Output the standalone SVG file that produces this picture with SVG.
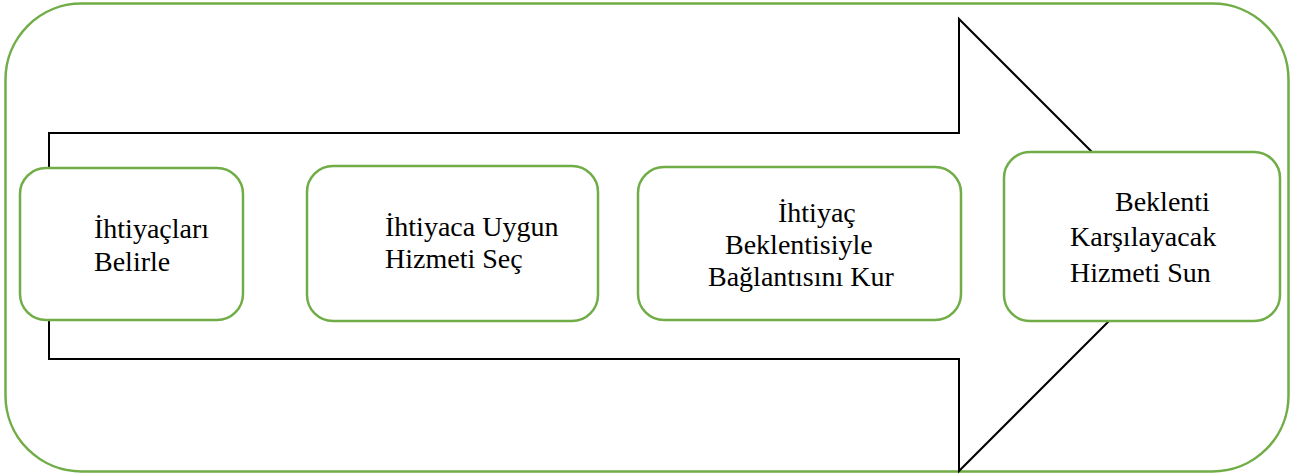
<svg xmlns="http://www.w3.org/2000/svg" width="1298" height="475" viewBox="0 0 1298 475">
<style>
.frame{fill:#fff;stroke:#70AD47;stroke-width:2.5}
.box{fill:#fff;stroke:#70AD47;stroke-width:2.5}
.arrow{fill:#fff;stroke:#000;stroke-width:2}
text{font-family:'Liberation Serif','DejaVu Serif',serif;font-size:28px;fill:#000}
</style>
<rect width="1298" height="475" fill="#fff"/>
<g id="frame"><rect class="frame" x="5.5" y="3.5" width="1283" height="468" rx="76" ry="76"/></g>
<g id="connectors"><polygon class="arrow" points="49,133 959,133 959,19 1185,245 959,471 959,359 49,359"/></g>
<g id="node1"><rect class="box" x="20" y="168" width="223" height="152" rx="26"/>
<text font-family="Liberation Serif, serif" x="94" y="238">İhtiyaçları</text><text font-family="Liberation Serif, serif" x="94" y="271">Belirle</text></g>
<g id="node2"><rect class="box" x="307" y="166" width="291" height="155" rx="26"/>
<text font-family="Liberation Serif, serif" x="385" y="236">İhtiyaca Uygun</text><text font-family="Liberation Serif, serif" x="385" y="268">Hizmeti Seç</text></g>
<g id="node3"><rect class="box" x="638" y="167" width="323" height="153" rx="26"/>
<text font-family="Liberation Serif, serif" x="778" y="222">İhtiyaç</text><text font-family="Liberation Serif, serif" x="725" y="254">Beklentisiyle</text><text font-family="Liberation Serif, serif" x="708" y="286">Bağlantısını Kur</text></g>
<g id="node4"><rect class="box" x="1004" y="152" width="276" height="169" rx="26"/>
<text font-family="Liberation Serif, serif" x="1115" y="211">Beklenti</text><text font-family="Liberation Serif, serif" x="1070" y="246">Karşılayacak</text><text font-family="Liberation Serif, serif" x="1070" y="282">Hizmeti Sun</text></g>
</svg>
